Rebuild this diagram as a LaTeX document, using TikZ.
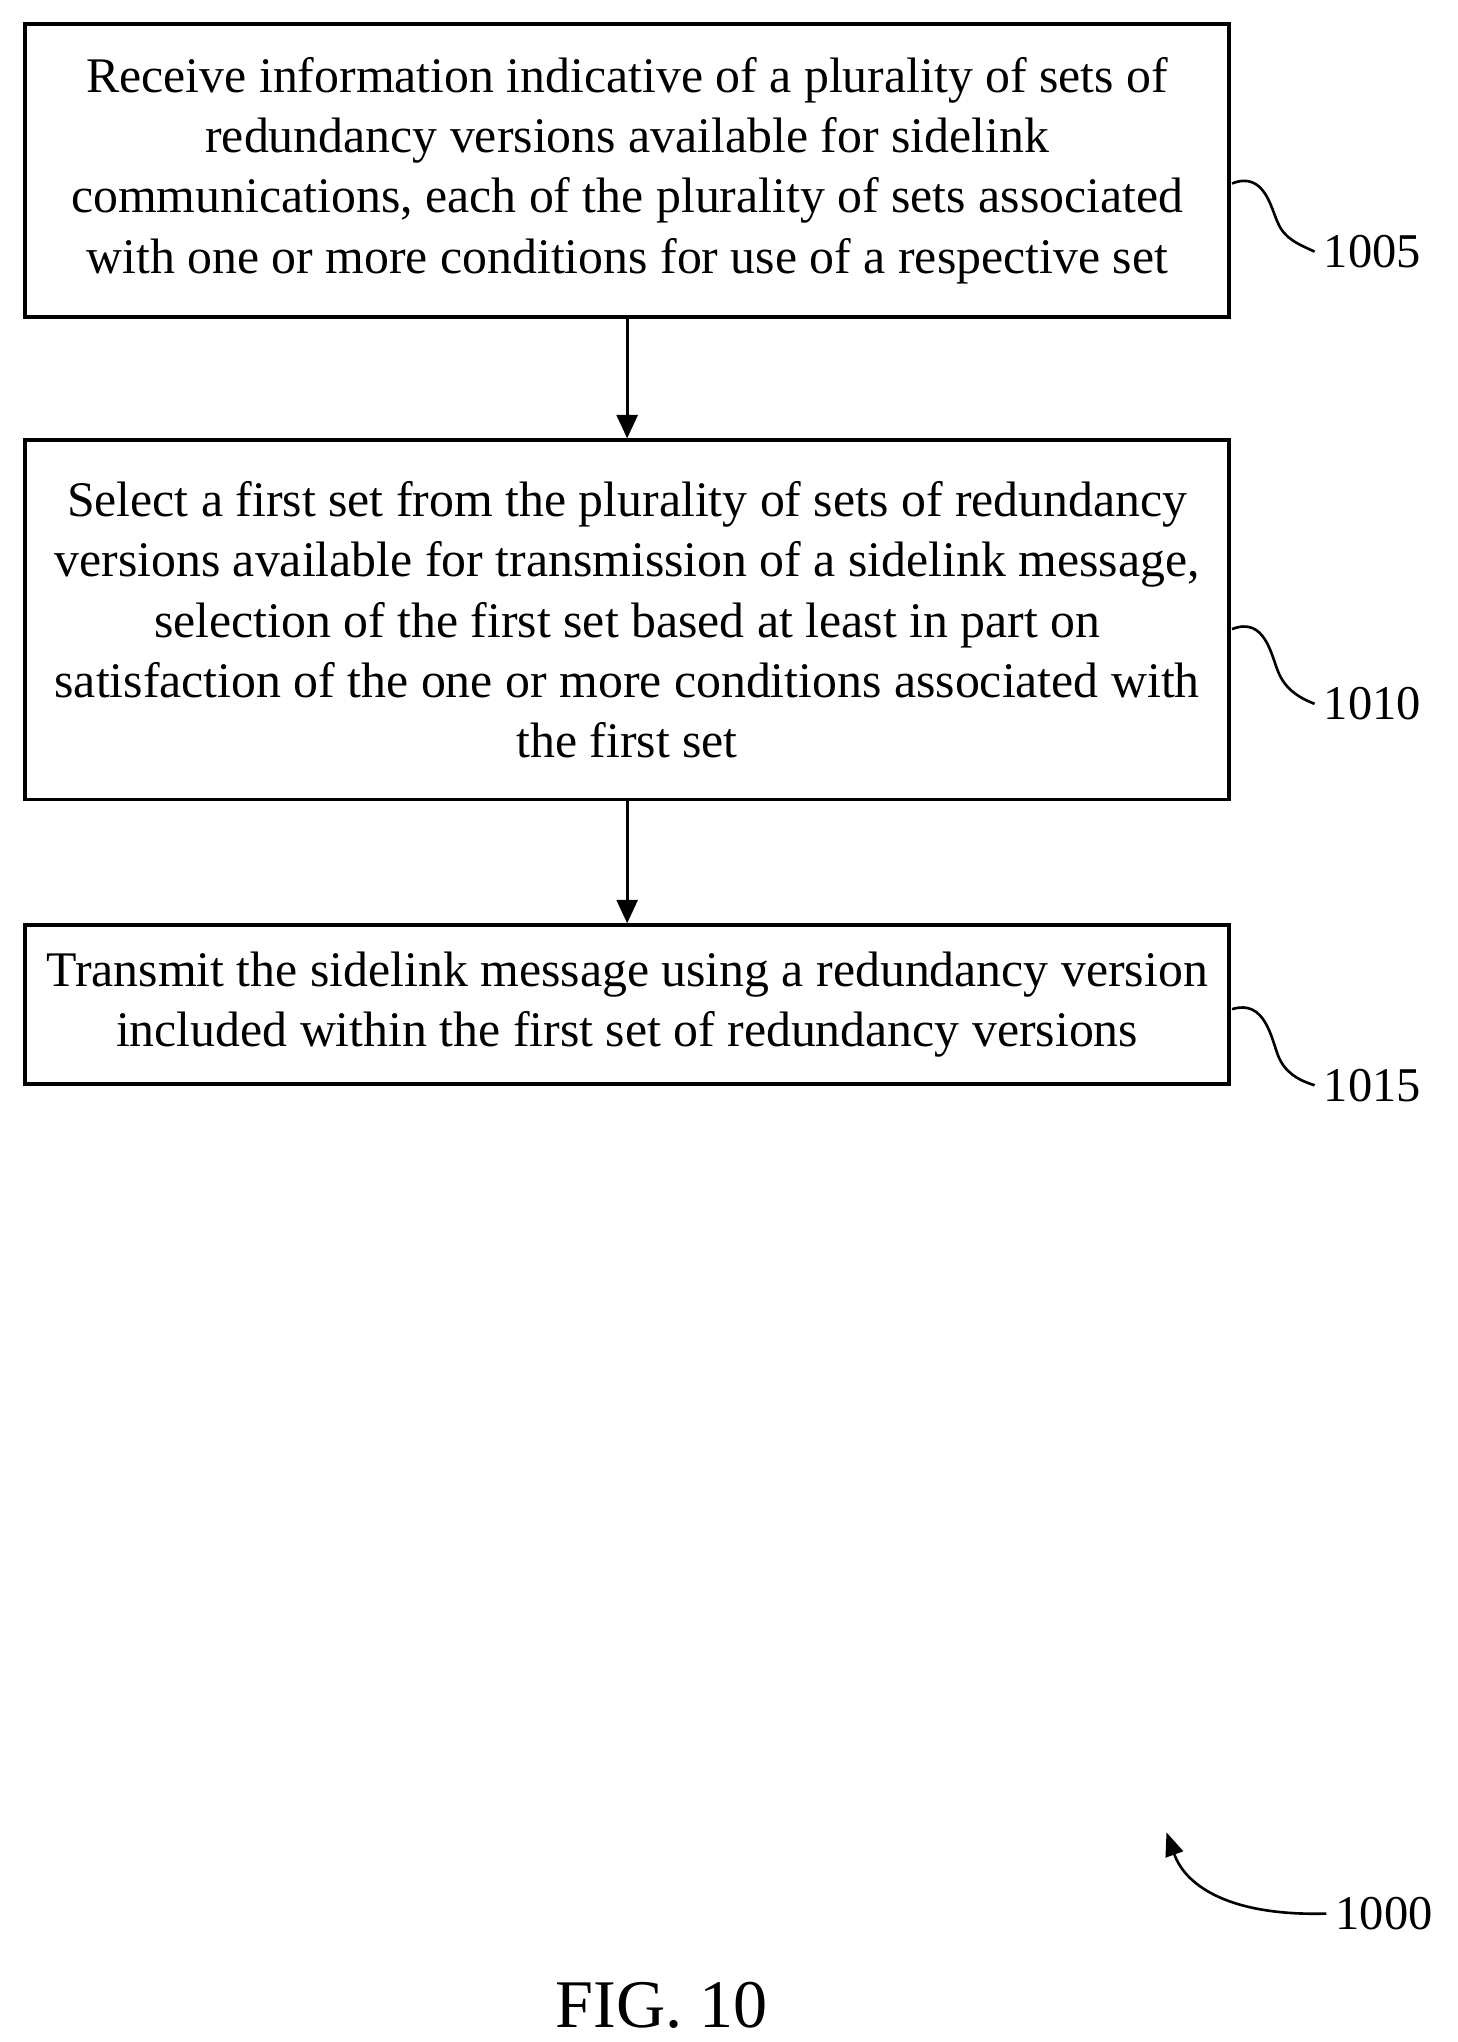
\documentclass[tikz,border=0pt]{standalone}
\usepackage{fontspec}
\setmainfont{Liberation Serif}
\usetikzlibrary{arrows.meta}
\begin{document}
\begin{tikzpicture}[x=0.5pt,y=-0.5pt,
  box/.style={draw,line width=1.5pt,align=center,font=\fontsize{19}{23}\selectfont,inner sep=0pt},
  conn/.style={line width=1.2pt,-{Triangle[length=9pt,width=8pt]}},
  squig/.style={line width=1pt},
  lab/.style={font=\fontsize{18.5}{22}\selectfont,anchor=west}]
\useasboundingbox (0,0) rectangle (1112,1558);
\node[box,minimum width=919*0.5pt,minimum height=224*0.5pt] (b1) at (478.5,130) {Receive information indicative of a plurality of sets of\\redundancy versions available for sidelink\\communications, each of the plurality of sets associated\\with one or more conditions for use of a respective set};
\node[box,minimum width=919*0.5pt,minimum height=274*0.5pt] (b2) at (478.5,473) {Select a first set from the plurality of sets of redundancy\\versions available for transmission of a sidelink message,\\selection of the first set based at least in part on\\satisfaction of the one or more conditions associated with\\the first set};
\node[box,minimum width=919*0.5pt,minimum height=121*0.5pt] (b3) at (478.5,766.5) {Transmit the sidelink message using a redundancy version\\included within the first set of redundancy versions};
\draw[conn] (b1.south) -- (b2.north);
\draw[conn] (b2.south) -- (b3.north);
\node[lab] (l1) at (1003,192) {1005};
\node[lab] (l2) at (1003,537) {1010};
\node[lab] (l3) at (1003,828) {1015};
\draw[squig] (940,140) .. controls (965,130) and (970,160) .. (975,170) .. controls (980,182) and (990,186) .. (l1.west);
\draw[squig] (940,480) .. controls (965,470) and (970,500) .. (975,512) .. controls (980,525) and (990,532) .. (l2.west);
\draw[squig] (940,770) .. controls (965,762) and (970,792) .. (975,805) .. controls (980,818) and (990,824) .. (l3.west);
\node[lab] (l4) at (1012,1460) {1000};
\coordinate (t4) at (890,1398);
\draw[line width=1pt,-{Triangle[length=9pt,width=7pt]}] (l4.west) .. controls (940,1462) and (905,1440) .. (t4);
\node[font=\fontsize{26}{30}\selectfont] (fig) at (505,1530) {FIG. 10};
\end{tikzpicture}
\end{document}
